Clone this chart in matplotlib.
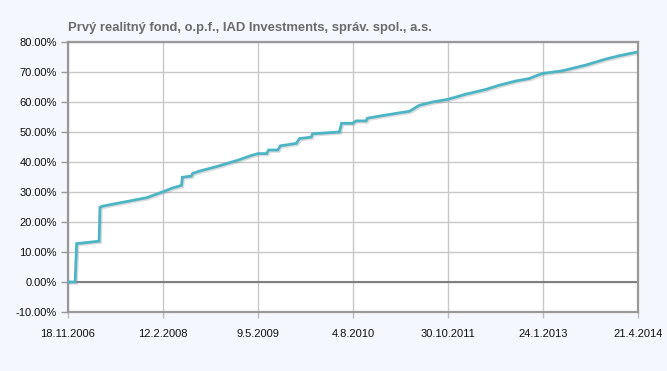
import matplotlib
matplotlib.use("Agg")
import matplotlib.pyplot as plt
import matplotlib.patheffects as pe
import pandas as pd

# fund performance (cumulative %)
dates = ["2006-11-18", "2006-12-22", "2006-12-29", "2007-04-15", "2007-04-19",
         "2007-05-03", "2007-11-27", "2008-01-29", "2008-04-01", "2008-05-11",
         "2008-05-15", "2008-06-27", "2008-07-03", "2008-08-06", "2008-10-31",
         "2009-02-03", "2009-03-31", "2009-05-09", "2009-06-20", "2009-06-29",
         "2009-08-12", "2009-08-24", "2009-11-08", "2009-11-23", "2010-01-18",
         "2010-01-24", "2010-06-01", "2010-06-11", "2010-08-03", "2010-08-19",
         "2010-10-06", "2010-10-12", "2010-12-08", "2011-02-25", "2011-04-30",
         "2011-06-16", "2011-08-18", "2011-10-30", "2012-01-23", "2012-04-28",
         "2012-06-30", "2012-09-17", "2012-11-19", "2012-12-21", "2013-01-21",
         "2013-04-26", "2013-08-15", "2013-11-18", "2014-01-21", "2014-04-21"]
values = [0.0, 0.0, 12.8, 13.6, 24.9,
          25.3, 28.1, 29.7, 31.4, 32.2,
          34.9, 35.3, 36.2, 37.0, 38.6,
          40.6, 42.0, 42.8, 42.8, 44.0,
          44.0, 45.4, 46.2, 47.8, 48.3,
          49.4, 50.0, 52.9, 52.9, 53.7,
          53.7, 54.6, 55.3, 56.2, 56.9,
          58.9, 60.0, 60.9, 62.6, 64.2,
          65.6, 67.0, 67.8, 68.7, 69.5,
          70.4, 72.3, 74.3, 75.4, 76.7]

tick_dates = ["2006-11-18", "2008-02-12", "2009-05-09", "2010-08-04",
              "2011-10-30", "2013-01-24", "2014-04-21"]
tick_labels = ["18.11.2006", "12.2.2008", "9.5.2009", "4.8.2010",
               "30.10.2011", "24.1.2013", "21.4.2014"]
y_ticks = list(range(-10, 81, 10))

title = "Prvý realitný fond, o.p.f., IAD Investments, správ. spol., a.s."

plt.rcParams['font.family'] = ['Liberation Sans', 'DejaVu Sans']

bg = "#f4f7fd"
fig = plt.figure(figsize=(6.67, 3.71), dpi=100, facecolor=bg)
ax = fig.add_axes([68/667, 59/371, 570/667, 270/371], facecolor="white")

x = pd.to_datetime(dates)
ax.plot(x, values, color="#4bb4c5", lw=2.0, solid_joinstyle="miter",
        path_effects=[pe.SimpleLineShadow(offset=(1, -1), shadow_color="#777777", alpha=0.25),
                      pe.Normal()], zorder=3)

ax.set_xlim(pd.Timestamp(tick_dates[0]), pd.Timestamp(tick_dates[-1]))
ax.set_ylim(-10, 80)
ax.set_xticks(pd.to_datetime(tick_dates))
ax.set_xticklabels(tick_labels)
ax.set_yticks(y_ticks)
ax.set_yticklabels([f"{v:.2f}%" for v in y_ticks])

ax.grid(True, color="#c8c8c8", lw=1.0)
ax.axhline(0, color="#808080", lw=1.5, zorder=2)
for s in ax.spines.values():
    s.set_color("#999999")
    s.set_linewidth(1.6)

ax.tick_params(axis="y", length=5, width=1, color="#999999", labelsize=8, pad=3, labelcolor="#111111")
ax.tick_params(axis="x", length=4, width=1, color="#bbbbbb", labelsize=8, pad=8, labelcolor="#111111")

fig.text(68/667, 1 - 31/371, title, fontsize=9.4, fontweight="bold", color="#6b6b6b",
         ha="left", va="baseline")

fig.savefig("out.png", dpi=100, facecolor=bg)
